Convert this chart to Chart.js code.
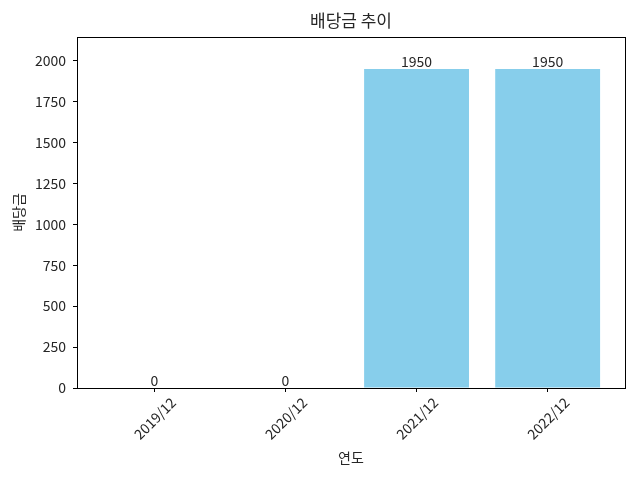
<!DOCTYPE html>
<html><head><meta charset="utf-8">
<script src="https://cdn.jsdelivr.net/npm/chart.js@4"></script>
<style>html,body{margin:0;padding:0;background:#fff}#wrap{width:640px;height:480px}</style>
</head><body><div id="wrap"><canvas id="c" width="640" height="480"></canvas></div>
<script>
const categories = ["2019/12", "2020/12", "2021/12", "2022/12"];
const dividends = [0, 0, 1950, 1950];
const yTicks = [0, 250, 500, 750, 1000, 1250, 1500, 1750, 2000];
const yMax = 2145;
const titleText = '배당금 추이';
const FONT = "'Noto Sans CJK KR', 'Noto Sans', sans-serif";

const extras = {
  id: 'extras',
  afterDatasetsDraw(chart) {
    const ctx = chart.ctx;
    const meta = chart.getDatasetMeta(0);
    ctx.save();
    ctx.font = "14px " + FONT;
    ctx.fillStyle = '#262626';
    ctx.textAlign = 'center';
    ctx.textBaseline = 'alphabetic';
    meta.data.forEach((bar, i) => {
      ctx.fillText(String(dividends[i]), bar.x, bar.y - 2);
    });
    ctx.restore();
  },
  afterDraw(chart) {
    const a = chart.chartArea, ctx = chart.ctx;
    ctx.save();
    ctx.strokeStyle = '#000';
    ctx.lineWidth = 1;
    ctx.strokeRect(Math.round(a.left) + 0.5, Math.round(a.top) + 0.5, Math.round(a.right - a.left), Math.round(a.bottom - a.top));
    ctx.font = "17px " + FONT;
    ctx.fillStyle = '#262626';
    ctx.textAlign = 'center';
    ctx.textBaseline = 'middle';
    ctx.fillText(titleText, (a.left + a.right) / 2, 21);
    ctx.restore();
  }
};

new Chart(document.getElementById('c'), {
  type: 'bar',
  data: {
    datasets: [{
      data: dividends.map((v, i) => ({x: i, y: v})),
      backgroundColor: '#87CEEB',
      borderWidth: 0,
      barPercentage: 0.8,
      categoryPercentage: 1.0
    }]
  },
  options: {
    responsive: false,
    animation: false,
    layout: {padding: {left: 0, right: 15, top: 37, bottom: 0}},
    plugins: {
      legend: {display: false},
      tooltip: {enabled: false},
      title: {display: false}
    },
    scales: {
      x: {
        type: 'linear', min: -0.59, max: 3.59, offset: false,
        afterBuildTicks: s => { s.ticks = categories.map((_, i) => ({value: i})); },
        afterFit: s => { s.height = 92; },
        grid: {display: true, drawOnChartArea: false, drawTicks: true, tickLength: 4, color: '#000', offset: false},
        border: {display: true, color: '#000'},
        ticks: {
          autoSkip: false, minRotation: 45, maxRotation: 45, labelOffset: 19, padding: 2,
          color: '#262626', font: {family: FONT, size: 14},
          callback: v => categories[v]
        },
        title: {display: true, text: '연도', color: '#262626', font: {family: FONT, size: 14}, padding: {top: 0, bottom: 14}}
      },
      y: {
        min: 0, max: yMax,
        afterBuildTicks: s => { s.ticks = yTicks.map(v => ({value: v})); },
        afterFit: s => { s.width = 77; },
        grid: {display: true, drawOnChartArea: false, drawTicks: true, tickLength: 4, color: '#000'},
        border: {display: true, color: '#000'},
        ticks: {color: '#262626', font: {family: FONT, size: 14}, padding: 7, callback: v => String(v)},
        title: {display: true, text: '배당금', color: '#262626', font: {family: FONT, size: 14}, padding: {top: 10, bottom: 0}}
      }
    }
  },
  plugins: [extras]
});
</script></body></html>
